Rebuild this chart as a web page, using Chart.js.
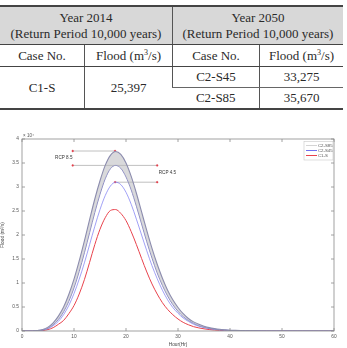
<!DOCTYPE html>
<html>
<head>
<meta charset="utf-8">
<script src="https://cdn.jsdelivr.net/npm/chart.js@4.4.0/dist/chart.umd.min.js"></script>
<style>
    body { margin: 0; background: #fff; width: 347px; height: 348px; overflow: hidden; position: relative; }
    table {
        position: absolute; left: 0; top: 5px; width: 343px;
        border-collapse: collapse; font-family: "Liberation Serif", "Times New Roman", serif;
        font-size: 13px; color: #2a2a2a; text-align: center;
    }
    td { padding: 0; border-left: 1px solid #555; }
    td:first-child { border-left: none; }
    tr.head td { background: #d8d8d8; height: 37px; line-height: 16px; border-top: 2px solid #444; border-bottom: 1px solid #444; }
    tr.sub td { height: 21px; border-bottom: 1px solid #444; }
    tr.r1 td { height: 20px; }
    tr.r1 td.split { border-bottom: 1px solid #666; }
    tr.r2 td { height: 20px; }
    tr.last td { border-bottom: 2px solid #444; }
    sup { font-size: 8px; vertical-align: 5px; line-height: 0; }
    #wrap { position: absolute; left: 0; top: 125px; width: 347px; height: 223px; }
</style>
</head>
<body>
<table>
    <tr class="head">
        <td colspan="2" style="width:171px">Year 2014<br>(Return Period 10,000 years)</td>
        <td colspan="2">Year 2050<br>(Return Period 10,000 years)</td>
    </tr>
    <tr class="sub">
        <td style="width:84px">Case No.</td>
        <td style="width:87px">Flood (m<sup>3</sup>/s)</td>
        <td style="width:86px">Case No.</td>
        <td>Flood (m<sup>3</sup>/s)</td>
    </tr>
    <tr class="r1">
        <td rowspan="2" style="border-bottom:2px solid #444">C1-S</td>
        <td rowspan="2" style="border-bottom:2px solid #444">25,397</td>
        <td class="split">C2-S45</td>
        <td class="split">33,275</td>
    </tr>
    <tr class="r2 last">
        <td>C2-S85</td>
        <td>35,670</td>
    </tr>
</table>
<div id="wrap"><canvas id="floodChart"></canvas></div>
<script>
// hydrographs, hours 0..60, flood in units of 10^4 m3/s
const hours = [0,1,2,3,4,5,6,7,8,9,10,11,12,13,14,15,16,17,18,19,20,21,22,23,24,25,26,27,28,29,30,
    31,32,33,34,35,36,37,38,39,40,41,42,43,44,45,46,47,48,49,50,51,52,53,54,55,56,57,58,59,60];

const s85Upper = [0,0,0,0.01,0.03,0.08,0.17,0.31,0.5,0.76,1.08,1.46,1.88,2.32,2.75,3.13,3.45,3.66,3.74,3.68,3.5,
    3.22,2.87,2.48,2.09,1.72,1.39,1.1,0.85,0.65,0.49,0.36,0.26,0.19,0.14,0.1,0.07,0.05,0.035,0.025,0.017,
    0.012,0.008,0.005,0.003,0.002,0.001,0,0,0,0,0,0,0,0,0,0,0,0,0,0];
const s85Lower = [0,0,0,0.01,0.02,0.06,0.13,0.24,0.4,0.62,0.9,1.24,1.63,2.05,2.47,2.85,3.17,3.38,3.45,3.39,3.21,
    2.94,2.6,2.23,1.86,1.52,1.21,0.95,0.73,0.55,0.41,0.3,0.22,0.16,0.11,0.08,0.055,0.038,0.026,0.018,0.012,
    0.008,0.005,0.003,0.002,0.001,0.001,0,0,0,0,0,0,0,0,0,0,0,0,0,0];
const s45 = [0,0,0,0.005,0.02,0.05,0.11,0.2,0.34,0.53,0.78,1.08,1.42,1.8,2.18,2.53,2.82,3.02,3.1,3.05,2.89,
    2.64,2.33,2.0,1.67,1.36,1.09,0.85,0.65,0.49,0.37,0.27,0.2,0.14,0.1,0.07,0.05,0.035,0.024,0.016,0.011,
    0.007,0.005,0.003,0.002,0.001,0.001,0,0,0,0,0,0,0,0,0,0,0,0,0,0];
const c1s = [0,0,0,0,0.01,0.03,0.07,0.14,0.22,0.36,0.53,0.77,1.07,1.43,1.8,2.12,2.36,2.51,2.53,2.45,2.3,
    2.07,1.8,1.51,1.23,0.98,0.77,0.59,0.45,0.34,0.25,0.18,0.13,0.09,0.065,0.045,0.03,0.02,0.013,0.008,0.005,
    0.003,0.002,0.001,0.001,0,0,0,0,0,0,0,0,0,0,0,0,0,0,0,0];

// RCP range markers
const rcp85TopHours = [9.75, 17.9];
const rcp85Top = [3.75, 3.75];
const rcpMidHours = [9.75, 26];
const rcpMid = [3.45, 3.45];
const rcp45LowHours = [17.9, 26];
const rcp45Low = [3.1, 3.1];

const xTicks = [0, 10, 20, 30, 40, 50, 60];
const yTicks = [0, 0.5, 1, 1.5, 2, 2.5, 3, 3.5, 4];

const legendItems = [
    { label: 'C2-S85', color: '#d4d4d4' },
    { label: 'C2-S45', color: '#6f6ff0' },
    { label: 'C1-S', color: '#e8424c' }
];

const FONT = '"Liberation Sans", Arial, sans-serif';

function pts(xs, ys) {
    return xs.map((x, i) => ({ x: x, y: ys[i] }));
}

function rangeLine(xs, ys) {
    return {
        data: pts(xs, ys),
        borderColor: '#b0b0b0',
        borderWidth: 0.8,
        pointRadius: 0.9,
        pointBackgroundColor: '#e2404c',
        pointBorderColor: '#e2404c',
        pointBorderWidth: 0.4,
        fill: false,
        tension: 0
    };
}

const framePlugin = {
    id: 'frame',
    afterDraw(chart) {
        const ctx = chart.ctx;
        const a = chart.chartArea;
        const xs = chart.scales.x, ys = chart.scales.y;
        ctx.save();
        ctx.strokeStyle = '#8a8a8a';
        ctx.lineWidth = 0.8;
        ctx.strokeRect(a.left, a.top, a.right - a.left, a.bottom - a.top);
        ctx.beginPath();
        xTicks.forEach(t => {
            const px = xs.getPixelForValue(t);
            ctx.moveTo(px, a.bottom); ctx.lineTo(px, a.bottom - 3);
            ctx.moveTo(px, a.top); ctx.lineTo(px, a.top + 3);
        });
        yTicks.forEach(t => {
            const py = ys.getPixelForValue(t);
            ctx.moveTo(a.left, py); ctx.lineTo(a.left + 3, py);
            ctx.moveTo(a.right, py); ctx.lineTo(a.right - 3, py);
        });
        ctx.stroke();

        // exponent label
        ctx.fillStyle = '#555';
        ctx.font = '4.5px ' + FONT;
        ctx.textBaseline = 'alphabetic';
        ctx.textAlign = 'left';
        ctx.fillText('\u00d7 10\u2074', a.left + 1, a.top - 2);

        // RCP labels
        ctx.fillStyle = '#333';
        ctx.font = '4.6px ' + FONT;
        ctx.textBaseline = 'middle';
        ctx.textAlign = 'right';
        ctx.fillText('RCP 8.5', xs.getPixelForValue(9.7), ys.getPixelForValue(3.6));
        ctx.textAlign = 'left';
        ctx.fillText('RCP 4.5', xs.getPixelForValue(26.3), ys.getPixelForValue(3.29));

        // legend box
        const bx = a.right - 30, by = a.top + 2.5, bw = 29, bh = 18.5;
        ctx.fillStyle = '#fff';
        ctx.fillRect(bx, by, bw, bh);
        ctx.strokeStyle = '#c8c8c8';
        ctx.lineWidth = 0.6;
        ctx.strokeRect(bx, by, bw, bh);
        ctx.font = '4.3px ' + FONT;
        legendItems.forEach((item, i) => {
            const ly = by + 4 + i * 5;
            ctx.strokeStyle = item.color;
            ctx.lineWidth = 1;
            ctx.beginPath();
            ctx.moveTo(bx + 2, ly); ctx.lineTo(bx + 13, ly);
            ctx.stroke();
            ctx.fillStyle = '#555';
            ctx.textAlign = 'left';
            ctx.fillText(item.label, bx + 14, ly);
        });
        ctx.restore();
    }
};

const ctx = document.getElementById('floodChart').getContext('2d');
new Chart(ctx, {
    type: 'line',
    data: {
        datasets: [
            {
                data: pts(hours, s85Upper),
                borderColor: '#8c8cae',
                borderWidth: 1.1,
                backgroundColor: 'rgba(185,185,190,0.55)',
                fill: '+1',
                pointRadius: 0,
                cubicInterpolationMode: 'monotone'
            },
            {
                data: pts(hours, s85Lower),
                borderColor: '#8282c4',
                borderWidth: 1.0,
                fill: false,
                pointRadius: 0,
                cubicInterpolationMode: 'monotone'
            },
            {
                data: pts(hours, s45),
                borderColor: '#7878f2',
                borderWidth: 0.7,
                fill: false,
                pointRadius: 0,
                cubicInterpolationMode: 'monotone'
            },
            {
                data: pts(hours, c1s),
                borderColor: '#e8424c',
                borderWidth: 1.0,
                fill: false,
                pointRadius: 0,
                cubicInterpolationMode: 'monotone'
            },
            rangeLine(rcp85TopHours, rcp85Top),
            rangeLine(rcpMidHours, rcpMid),
            rangeLine(rcp45LowHours, rcp45Low)
        ]
    },
    options: {
        responsive: true,
        maintainAspectRatio: false,
        animation: false,
        layout: { padding: { top: 14, right: 13, left: 0, bottom: 0 } },
        plugins: {
            legend: { display: false },
            tooltip: { enabled: false }
        },
        scales: {
            x: {
                type: 'linear',
                min: 0, max: 60,
                afterFit(scale) { scale.height = 17; },
                afterBuildTicks(scale) { scale.ticks = xTicks.map(v => ({ value: v })); },
                grid: { display: false, drawTicks: false, tickLength: 0 },
                border: { display: false },
                ticks: {
                    color: '#555', padding: 3, autoSkip: false, maxRotation: 0, callback: v => String(v),
                    font: { size: 4.8, family: FONT }
                },
                title: {
                    display: true, text: 'Hour(Hr)', color: '#444', padding: { top: 1, bottom: 0 },
                    font: { size: 4.8, family: FONT }
                }
            },
            y: {
                min: 0, max: 4,
                afterFit(scale) { scale.width = 22; },
                afterBuildTicks(scale) { scale.ticks = yTicks.map(v => ({ value: v })); },
                grid: { display: false, drawTicks: false, tickLength: 0 },
                border: { display: false },
                ticks: {
                    color: '#555', padding: 3, autoSkip: false, callback: v => String(v),
                    font: { size: 4.8, family: FONT }
                },
                title: {
                    display: true, text: 'Flood (m\u00b3/s)', color: '#444', padding: 0,
                    font: { size: 4.8, family: FONT }
                }
            }
        }
    },
    plugins: [framePlugin]
});
</script>
</body>
</html>
